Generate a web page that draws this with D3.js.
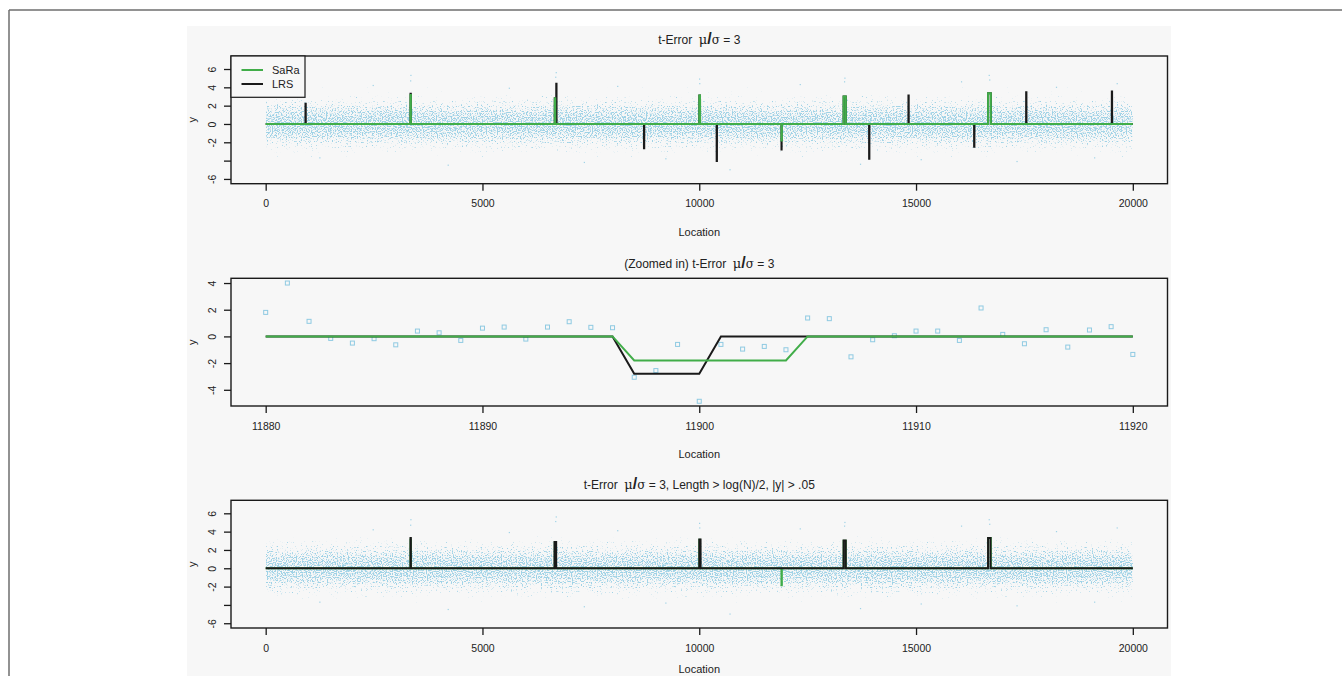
<!DOCTYPE html>
<html><head><meta charset="utf-8">
<script src="https://cdn.jsdelivr.net/npm/d3@7"></script>
<style>
body{margin:0;background:#fff;}
svg text{font-family:"Liberation Sans",Arial,Helvetica,sans-serif;fill:#222;}
</style></head><body>
<svg id="c" width="1342" height="676"></svg>
<script>
// ---------------- data ----------------
const xTicksFull = [0, 5000, 10000, 15000, 20000];
const xTickLabelsFull = ["0", "5000", "10000", "15000", "20000"];
const yTicksFull = [-6, -4, -2, 0, 2, 4, 6];
const yTickLabelsFull = ["-6", "", "-2", "0", "2", "4", "6"];
const yLimFull = [-6.52, 7.42];
const locRange = [0, 20000];

const xTicksZoom = [11880, 11890, 11900, 11910, 11920];
const xTickLabelsZoom = ["11880", "11890", "11900", "11910", "11920"];
const yTicksZoom = [-4, -2, 0, 2, 4];
const yTickLabelsZoom = ["-4", "-2", "0", "2", "4"];

// SaRa estimated non-zero segments (full series)
const saraStart = [3340, 6668, 10002, 11897, 13330, 16662];
const saraEnd   = [3348, 6678, 10018, 11904, 13380, 16725];
const saraLevel = [3.15, 2.8, 3.1, -1.8, 3.0, 3.35];

// LRS estimated non-zero segments (full series)
const lrsStart = [918, 3340, 6668, 6702, 8725, 10002, 10402, 11897, 13330, 13918, 14825, 16340, 16662, 17540, 19516];
const lrsEnd   = [924, 3348, 6678, 6708, 8731, 10018, 10408, 11900, 13380, 13924, 14831, 16346, 16725, 17546, 19522];
const lrsLevel = [2.2, 3.3, 2.8, 4.4, -2.65, 3.1, -4.05, -2.8, 3.0, -3.8, 3.1, -2.5, 3.35, 3.45, 3.55];

// filtered (Length > log(N)/2, |y| > .05)
const saraFiltStart = [3340, 6668, 10002, 11897, 13330, 16662];
const saraFiltEnd   = [3348, 6678, 10018, 11904, 13380, 16725];
const saraFiltLevel = [3.15, 2.8, 3.1, -1.85, 3.0, 3.3];
const lrsFiltStart = [3340, 6662, 10002, 13330, 16662];
const lrsFiltEnd   = [3348, 6700, 10030, 13378, 16718];
const lrsFiltLevel = [3.3, 2.87, 3.13, 3.02, 3.3];

// noise cloud density profile (value level -> relative density)
const cloudLevel   = [-4.5, -3.5, -3.0, -2.5, -2.0, -1.5, -0.8, 0, 0.8, 1.5, 2.0, 2.5, 3.0, 3.5, 4.5];
const cloudDensity = [0.16, 0.25, 0.30, 0.35, 0.41, 0.48, 0.54, 0.56, 0.54, 0.48, 0.41, 0.35, 0.30, 0.25, 0.16];

// a few visible outliers (location, value)
const outLoc = [3350, 3344, 6690, 6702, 10008, 10012, 13352, 13360, 16688, 16700, 1250, 2480, 4210, 5620, 7350, 8120, 9230, 10710, 12330, 13720, 15120, 16050, 17330, 18240, 19120, 19640];
const outVal = [5.3, 4.7, 5.1, 5.6, 4.9, 4.4, 4.6, 5.0, 5.3, 4.8, -3.7, 4.2, -4.5, 3.9, -4.2, 4.1, -3.8, -5.0, 4.3, -4.4, -3.9, 4.6, -4.1, 4.0, -3.7, 4.4];

// zoomed-in data 11880..11920
const zoomLoc = [11880,11881,11882,11883,11884,11885,11886,11887,11888,11889,11890,11891,11892,11893,11894,11895,11896,11897,11898,11899,11900,11901,11902,11903,11904,11905,11906,11907,11908,11909,11910,11911,11912,11913,11914,11915,11916,11917,11918,11919,11920];
const zoomY = [1.8, 4.0, 1.13, -0.15, -0.5, -0.17, -0.63, 0.4, 0.27, -0.3, 0.62, 0.7, -0.2, 0.7, 1.1, 0.68, 0.65, -3.06, -2.56, -0.6, -4.86, -0.6, -0.95, -0.75, -1.0, 1.38, 1.33, -1.53, -0.25, 0.05, 0.4, 0.4, -0.3, 2.13, 0.15, -0.55, 0.5, -0.8, 0.48, 0.73, -1.35];
const zoomSaraX = [11880, 11896, 11897, 11904, 11905, 11920];
const zoomSaraY = [0, 0, -1.8, -1.8, 0, 0];
const zoomLrsX = [11880, 11896, 11897, 11900, 11901, 11920];
const zoomLrsY = [0, 0, -2.8, -2.8, 0, 0];

// ---------------- drawing ----------------
const svg = d3.select("#c");
const GREEN = "#41ad49", BLACK = "#1a1a1a", PT = "#9fd2e6", SQ = "#8fcae2";
const X0 = 231, X1 = 1167.5, PH = 127.7;
const panelTops = [56, 278.3, 500.3];

// outer frame and background
svg.append("rect").attr("x", 187).attr("y", 26).attr("width", 984).attr("height", 650).attr("fill", "#f7f7f7");
svg.append("line").attr("x1", 9).attr("x2", 1342).attr("y1", 10).attr("y2", 10).attr("stroke", "#6e6e6e").attr("stroke-width", 1.5);
svg.append("line").attr("x1", 9).attr("x2", 9).attr("y1", 10).attr("y2", 676).attr("stroke", "#6e6e6e").attr("stroke-width", 1.5);

const defs = svg.append("defs");
// speckle texture filter for the dense noise cloud
const f = defs.append("filter").attr("id", "speck").attr("filterUnits", "userSpaceOnUse")
  .attr("x", 0).attr("y", 0).attr("width", 1342).attr("height", 676)
  .attr("color-interpolation-filters", "sRGB");
f.append("feTurbulence").attr("type", "fractalNoise").attr("baseFrequency", 0.8).attr("numOctaves", 1).attr("seed", 11).attr("result", "noise");
f.append("feColorMatrix").attr("in", "noise").attr("type", "matrix")
  .attr("values", "0 0 0 0 0  0 0 0 0 0  0 0 0 0 0  1 0 0 0 0").attr("result", "na");
f.append("feComposite").attr("in", "na").attr("in2", "SourceGraphic").attr("operator", "arithmetic")
  .attr("k1", 0).attr("k2", 8).attr("k3", 8).attr("k4", -8).attr("result", "mask");
f.append("feFlood").attr("flood-color", PT).attr("result", "col");
f.append("feComposite").attr("in", "col").attr("in2", "mask").attr("operator", "in");

function title(cx, cy, prefix, suffix) {
  const t = svg.append("text").attr("x", cx).attr("y", cy).attr("dy", "0.35em")
    .attr("text-anchor", "middle").style("font-size", "12px").style("white-space", "pre");
  t.append("tspan").text(prefix + "t-Error  ");
  t.append("tspan").text("μ").style("font-size", "13px").style("font-family", "'DejaVu Serif',serif").style("font-weight", "normal");
  t.append("tspan").text("/").style("font-weight", "bold").style("font-size", "16px");
  t.append("tspan").text("σ").style("font-size", "12px").style("font-family", "'DejaVu Serif',serif").style("font-weight", "normal");
  t.append("tspan").text(" = 3" + suffix);
}

function axes(g, x, y, top, xt, xl, yt, yl, locDy) {
  const ax = g.append("g").attr("transform", `translate(0,${top + PH})`)
    .call(d3.axisBottom(x).tickValues(xt).tickFormat((d, i) => xl[i]).tickSize(7).tickSizeOuter(0));
  ax.select(".domain").remove();
  ax.selectAll("line").attr("stroke", BLACK).attr("stroke-width", 1.3);
  ax.selectAll("text").attr("y", 20).attr("dy", "0.35em").style("font-size", "10.5px")
    .style("font-family", "'Liberation Sans',Arial,sans-serif").attr("fill", "#222");
  const ay = g.append("g").attr("transform", `translate(${X0},0)`)
    .call(d3.axisLeft(y).tickValues(yt).tickFormat((d, i) => yl[i]).tickSize(7).tickSizeOuter(0));
  ay.select(".domain").remove();
  ay.selectAll("line").attr("stroke", BLACK).attr("stroke-width", 1.3);
  ay.selectAll("text").attr("x", 0).attr("y", 0).attr("dy", "0.35em")
    .attr("text-anchor", "middle").attr("transform", "translate(-18.5,0) rotate(-90)")
    .style("font-size", "10.5px").style("font-family", "'Liberation Sans',Arial,sans-serif").attr("fill", "#222");
  g.append("text").attr("transform", `translate(192,${top + PH / 2}) rotate(-90)`)
    .attr("text-anchor", "middle").attr("dy", "0.35em").style("font-size", "11px").text("y");
  g.append("text").attr("x", (X0 + X1) / 2).attr("y", top + PH + locDy).attr("dy", "0.35em")
    .attr("text-anchor", "middle").style("font-size", "11px").text("Location");
}

function box(g, top) {
  g.append("rect").attr("x", X0).attr("y", top).attr("width", X1 - X0).attr("height", PH)
    .attr("fill", "none").attr("stroke", BLACK).attr("stroke-width", 1.4);
}

function stepPts(st, en, lv) {
  const pts = [[locRange[0], 0]];
  st.forEach((s, i) => { pts.push([s - 1, 0], [s, lv[i]], [en[i], lv[i]], [en[i] + 1, 0]); });
  pts.push([locRange[1], 0]);
  return pts;
}

function fullPanel(idx, titlePrefix, titleSuffix, layers, legend, locDy) {
  const top = panelTops[idx];
  const g = svg.append("g");
  const x = d3.scaleLinear().domain([locRange[0] - 0.04 * (locRange[1] - locRange[0]), locRange[1] + 0.04 * (locRange[1] - locRange[0])]).range([X0, X1]);
  const y = d3.scaleLinear().domain(yLimFull).range([top + PH, top]);
  const gid = "grad" + idx;
  const grad = defs.append("linearGradient").attr("id", gid).attr("gradientUnits", "userSpaceOnUse")
    .attr("x1", 0).attr("x2", 0).attr("y1", y(cloudLevel[0])).attr("y2", y(cloudLevel[cloudLevel.length - 1]));
  cloudLevel.forEach((v, i) => {
    grad.append("stop").attr("offset", (v - cloudLevel[0]) / (cloudLevel[cloudLevel.length - 1] - cloudLevel[0]))
      .attr("stop-color", "#000").attr("stop-opacity", cloudDensity[i]);
  });
  g.append("rect").attr("x", x(locRange[0])).attr("width", x(locRange[1]) - x(locRange[0]))
    .attr("y", y(cloudLevel[cloudLevel.length - 1])).attr("height", y(cloudLevel[0]) - y(cloudLevel[cloudLevel.length - 1]))
    .attr("fill", `url(#${gid})`).attr("filter", "url(#speck)");
  g.selectAll(".out").data(outLoc).enter().append("rect")
    .attr("x", d => x(d) - 0.6).attr("y", (d, i) => y(outVal[i]) - 0.6).attr("width", 1.2).attr("height", 1.2).attr("fill", PT);
  const line = d3.line().x(d => x(d[0])).y(d => y(d[1]));
  layers.forEach(L => {
    g.append("path").attr("d", line(stepPts(L.s, L.e, L.v))).attr("fill", "none")
      .attr("stroke", L.c).attr("stroke-width", 2).attr("stroke-linejoin", "miter");
  });
  box(g, top);
  axes(g, x, y, top, xTicksFull, xTickLabelsFull, yTicksFull, yTickLabelsFull, locDy);
  title((X0 + X1) / 2, top - 16, titlePrefix, titleSuffix);
  if (legend) {
    g.append("rect").attr("x", X0).attr("y", top).attr("width", 74).attr("height", 41.3)
      .attr("fill", "#f7f7f7").attr("stroke", BLACK).attr("stroke-width", 1.2);
    const items = [["SaRa", GREEN], ["LRS", BLACK]];
    items.forEach((it, i) => {
      const yy = top + 14 + i * 14;
      g.append("line").attr("x1", X0 + 10.5).attr("x2", X0 + 32).attr("y1", yy).attr("y2", yy)
        .attr("stroke", it[1]).attr("stroke-width", 2);
      g.append("text").attr("x", X0 + 41).attr("y", yy).attr("dy", "0.35em").style("font-size", "11px").text(it[0]);
    });
  }
}

// panel 1
fullPanel(0, "", "", [
  { s: lrsStart, e: lrsEnd, v: lrsLevel, c: BLACK },
  { s: saraStart, e: saraEnd, v: saraLevel, c: GREEN }
], true, 48);

// panel 2 (zoomed)
(function () {
  const top = panelTops[1];
  const g = svg.append("g");
  const xe = d3.extent(zoomLoc), ye = d3.extent(zoomY);
  const xp = 0.04 * (xe[1] - xe[0]), yp = 0.04 * (ye[1] - ye[0]);
  const x = d3.scaleLinear().domain([xe[0] - xp, xe[1] + xp]).range([X0, X1]);
  const y = d3.scaleLinear().domain([ye[0] - yp, ye[1] + yp]).range([top + PH, top]);
  g.selectAll(".pt").data(zoomLoc).enter().append("rect")
    .attr("x", d => x(d) - 2).attr("y", (d, i) => y(zoomY[i]) - 2).attr("width", 4).attr("height", 4)
    .attr("fill", "none").attr("stroke", SQ).attr("stroke-width", 1);
  const line = d3.line().x(d => x(d[0])).y(d => y(d[1]));
  g.append("path").attr("d", line(zoomLrsX.map((v, i) => [v, zoomLrsY[i]]))).attr("fill", "none").attr("stroke", BLACK).attr("stroke-width", 2);
  g.append("path").attr("d", line(zoomSaraX.map((v, i) => [v, zoomSaraY[i]]))).attr("fill", "none").attr("stroke", GREEN).attr("stroke-width", 2);
  box(g, top);
  axes(g, x, y, top, xTicksZoom, xTickLabelsZoom, yTicksZoom, yTickLabelsZoom, 48);
  title((X0 + X1) / 2, top - 15, "(Zoomed in) ", "");
})();

// panel 3 (filtered)
fullPanel(2, "", ", Length > log(N)/2, |y| > .05", [
  { s: saraFiltStart, e: saraFiltEnd, v: saraFiltLevel, c: GREEN },
  { s: lrsFiltStart, e: lrsFiltEnd, v: lrsFiltLevel, c: BLACK }
], false, 41);
</script>
</body></html>
